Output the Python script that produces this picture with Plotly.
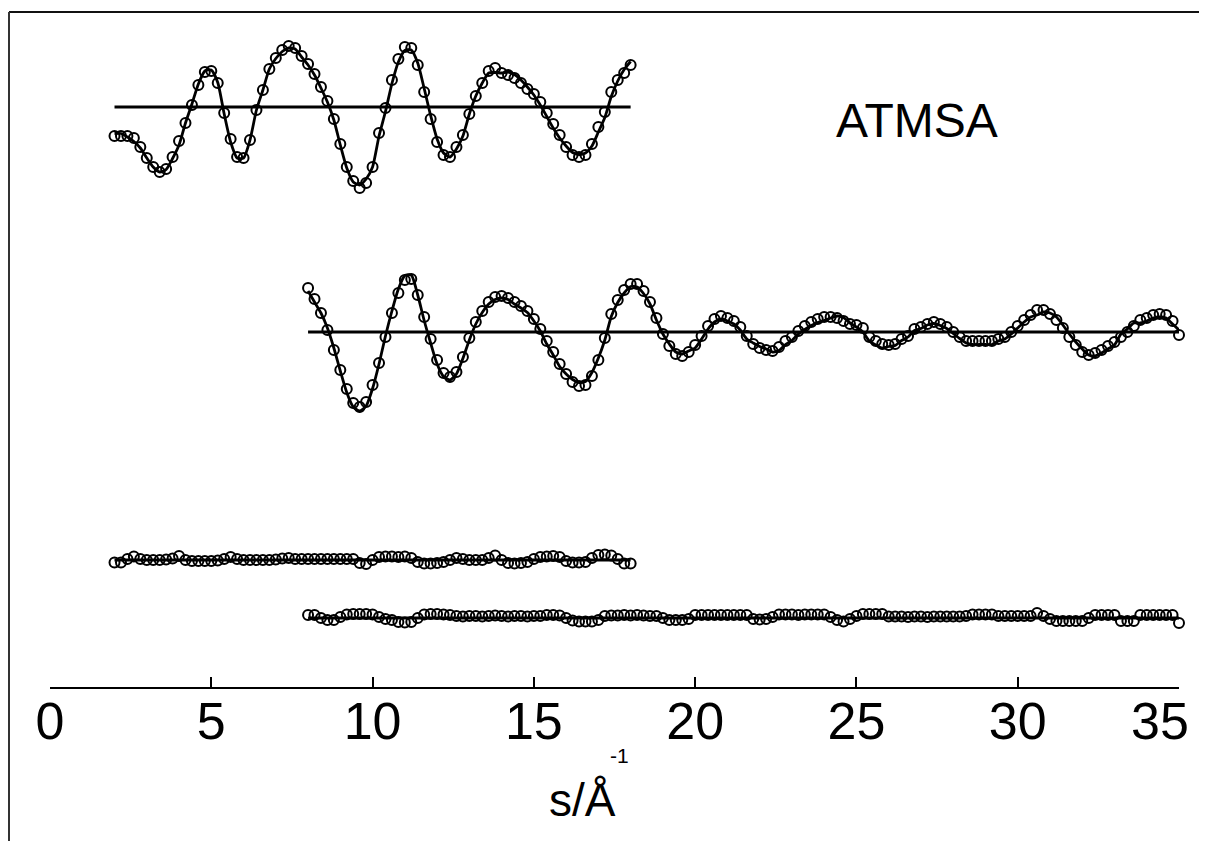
import plotly.graph_objects as go

# ---------------- data ----------------
# long camera distance: s = 2.0 ... 18.0 step 0.2
s1_start, s1_step = 2.0, 0.2
exp1 = [-0.29, -0.29, -0.29, -0.31, -0.40, -0.51, -0.60, -0.65, -0.62, -0.50,
        -0.34, -0.16, 0.02, 0.22, 0.35, 0.36, 0.24, -0.06, -0.32, -0.50,
        -0.51, -0.33, -0.03, 0.17, 0.38, 0.49, 0.57, 0.61, 0.59, 0.51,
        0.43, 0.33, 0.20, 0.06, -0.12, -0.37, -0.60, -0.74, -0.81, -0.76,
        -0.60, -0.26, -0.01, 0.27, 0.48, 0.60, 0.59, 0.42, 0.15, -0.12,
        -0.35, -0.48, -0.50, -0.40, -0.28, -0.07, 0.11, 0.24, 0.36, 0.39,
        0.34, 0.32, 0.29, 0.24, 0.18, 0.13, 0.05, -0.06, -0.17, -0.28,
        -0.40, -0.48, -0.50, -0.48, -0.37, -0.20, -0.05, 0.15, 0.27, 0.34,
        0.42]
res1 = [-0.025, -0.025, 0.01, 0.035, 0.01, 0.0, 0.0, 0.0, 0.005, 0.015,
        0.04, 0.0, -0.01, -0.01, -0.01, -0.01, -0.005, 0.01, 0.03, 0.01,
        0.0, 0.0, 0.0, 0.0, 0.0, 0.005, 0.015, 0.02, 0.01, 0.01,
        0.01, 0.01, 0.01, 0.01, 0.01, 0.01, 0.01, 0.01, -0.03, -0.04,
        0.0, 0.03, 0.035, 0.035, 0.03, 0.035, 0.02, -0.02, -0.035, -0.035,
        -0.03, -0.02, 0.0, 0.02, 0.01, 0.0, 0.0, 0.0, 0.02, 0.045,
        0.0, -0.03, -0.035, -0.03, -0.02, 0.01, 0.03, 0.035, 0.04, 0.03,
        -0.01, -0.025, -0.025, -0.02, 0.02, 0.05, 0.055, 0.045, 0.01, -0.035,
        -0.035]

# short camera distance: s = 8.0 ... 35.0 step 0.2
s2_start, s2_step = 8.0, 0.2
exp2 = [0.44, 0.33, 0.19, 0.02, -0.18, -0.38, -0.57, -0.71, -0.75, -0.70,
        -0.53, -0.31, -0.05, 0.19, 0.39, 0.52, 0.53, 0.37, 0.15, -0.07,
        -0.28, -0.41, -0.45, -0.40, -0.25, -0.06, 0.10, 0.21, 0.30, 0.35,
        0.36, 0.34, 0.30, 0.26, 0.21, 0.13, 0.03, -0.09, -0.20, -0.32,
        -0.42, -0.50, -0.54, -0.53, -0.44, -0.28, -0.06, 0.18, 0.32, 0.42,
        0.48, 0.48, 0.41, 0.30, 0.14, -0.02, -0.14, -0.22, -0.24, -0.20,
        -0.13, -0.04, 0.06, 0.13, 0.16, 0.14, 0.11, 0.05, -0.04, -0.12,
        -0.16, -0.18, -0.19, -0.15, -0.09, -0.05, 0.01, 0.06, 0.10, 0.13,
        0.15, 0.15, 0.14, 0.11, 0.08, 0.07, 0.04, -0.05, -0.09, -0.12,
        -0.13, -0.12, -0.07, -0.04, 0.03, 0.05, 0.08, 0.10, 0.08, 0.05,
        0.00, -0.05, -0.09, -0.09, -0.09, -0.09, -0.09, -0.07, -0.05, 0.00,
        0.06, 0.12, 0.17, 0.22, 0.22, 0.18, 0.12, 0.04, -0.05, -0.13,
        -0.20, -0.23, -0.21, -0.18, -0.14, -0.10, -0.05, 0.00, 0.06, 0.12,
        0.14, 0.17, 0.18, 0.17, 0.11, -0.03]
res2 = [0.03, 0.03, 0.0, -0.02, -0.02, 0.01, 0.035, 0.04, 0.04, 0.04,
        0.035, 0.01, -0.01, -0.02, -0.04, -0.045, -0.04, 0.0, 0.035, 0.04,
        0.04, 0.035, 0.03, 0.02, 0.015, 0.02, 0.02, 0.015, 0.02, 0.025,
        0.02, 0.015, 0.02, 0.02, 0.015, 0.02, 0.02, 0.03, 0.03, 0.025,
        0.0, -0.025, -0.035, -0.035, -0.035, -0.02, 0.02, 0.025, 0.025, 0.03,
        0.025, 0.03, 0.025, 0.02, 0.02, 0.0, -0.02, -0.02, -0.02, -0.01,
        0.03, 0.03, 0.03, 0.03, 0.03, 0.03, 0.03, 0.03, 0.03, -0.01,
        -0.015, -0.01, 0.01, 0.035, 0.035, 0.035, 0.03, 0.035, 0.035, 0.035,
        0.035, 0.01, -0.02, -0.035, -0.01, 0.02, 0.04, 0.04, 0.04, 0.04,
        0.015, 0.015, 0.015, 0.01, 0.015, 0.015, 0.01, 0.015, 0.015, 0.015,
        0.015, 0.015, 0.02, 0.035, 0.035, 0.035, 0.035, 0.02, 0.02, 0.02,
        0.02, 0.02, 0.02, 0.05, 0.02, -0.01, -0.03, -0.03, -0.03, -0.03,
        -0.03, 0.0, 0.03, 0.03, 0.03, 0.03, -0.03, -0.03, -0.03, 0.03,
        0.03, 0.03, 0.03, 0.03, 0.03, -0.05]

x_ticks = [0, 5, 10, 15, 20, 25, 30, 35]
label_text = "ATMSA"
axis_title_main = "s/Å"
axis_title_sup = "-1"

# ---------------- layout constants ----------------
OFF1, OFF2, OFFR1, OFFR2 = 5.80, 3.55, 1.27, 0.69
FONT = "Liberation Sans, Arial, sans-serif"

s1 = [round(s1_start + s1_step * i, 2) for i in range(len(exp1))]
s2 = [round(s2_start + s2_step * i, 2) for i in range(len(exp2))]
theo1 = [e - r for e, r in zip(exp1, res1)]
theo2 = [e - r for e, r in zip(exp2, res2)]

fig = go.Figure()
mk = dict(symbol="circle-open", size=10, color="black", line=dict(width=2, color="black"))


def add_curve(s, vals, theo, off):
    # baseline
    fig.add_trace(go.Scatter(x=[s[0], s[-1]], y=[off, off], mode="lines",
                             line=dict(color="black", width=3), hoverinfo="skip",
                             cliponaxis=False))
    if theo is not None:
        fig.add_trace(go.Scatter(x=s, y=[v + off for v in theo], mode="lines",
                                 line=dict(color="black", width=2.8, shape="spline", smoothing=0.6),
                                 cliponaxis=False))
    fig.add_trace(go.Scatter(x=s, y=[v + off for v in vals], mode="markers",
                             marker=mk, cliponaxis=False))


add_curve(s1, exp1, theo1, OFF1)
add_curve(s2, exp2, theo2, OFF2)
add_curve(s1, res1, None, OFFR1)
add_curve(s2, res2, None, OFFR2)

fig.add_annotation(x=26.87, y=5.67, text=label_text, showarrow=False,
                   font=dict(size=48, color="black", family=FONT))

# last tick label, pulled inside the page as in the original
fig.add_annotation(x=x_ticks[-1] - 0.6, xref="x", y=-0.051, yref="paper", text=str(x_ticks[-1]),
                   showarrow=False, xanchor="center", yanchor="middle",
                   font=dict(size=52, color="black", family=FONT))

# axis title as text below the axis
fig.add_annotation(x=16.5, xref="x", y=-0.168, yref="paper", text=axis_title_main,
                   showarrow=False, xanchor="center", yanchor="middle",
                   font=dict(size=46, color="black", family=FONT))
fig.add_annotation(x=17.65, xref="x", y=-0.102, yref="paper", text=axis_title_sup,
                   showarrow=False, xanchor="center", yanchor="middle",
                   font=dict(size=21, color="black", family=FONT))

# frame lines (top and left)
xl = -41 / 1129
xr = 1157 / 1129
yb = -154 / 675
fig.add_shape(type="line", xref="paper", yref="paper", x0=xl, x1=xr, y0=1, y1=1,
              line=dict(color="#111", width=2))
fig.add_shape(type="line", xref="paper", yref="paper", x0=xl, x1=xl, y0=yb, y1=1,
              line=dict(color="#333", width=2))

fig.update_layout(
    width=1207, height=841,
    margin=dict(l=42, r=36, t=4, b=162),
    paper_bgcolor="white", plot_bgcolor="white",
    showlegend=False,
    font=dict(family=FONT, color="black"),
    xaxis=dict(range=[0, 35], showgrid=False, zeroline=False,
               showline=True, linecolor="black", linewidth=2,
               ticks="inside", ticklen=10, tickwidth=1.5, tickcolor="black",
               tickvals=x_ticks, ticktext=[str(t) for t in x_ticks[:-1]] + [""],
               tickfont=dict(size=52, family=FONT),
               ticklabelstandoff=-12),
    yaxis=dict(range=[0, 6.75], visible=False),
)

fig.write_html("out.html")
